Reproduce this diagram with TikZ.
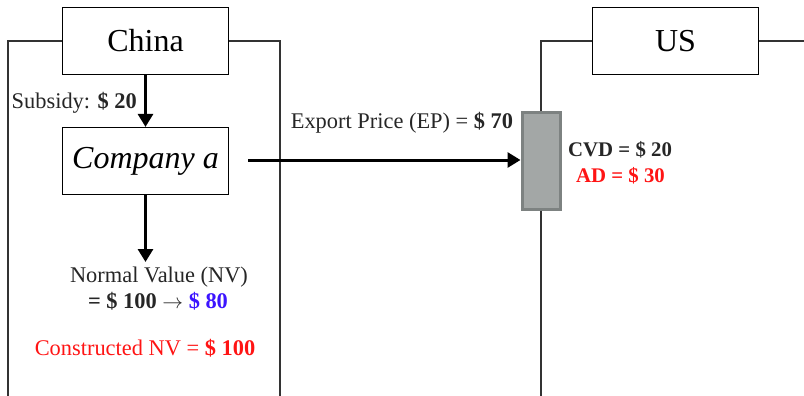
\documentclass[tikz,border=0pt]{standalone}
\usepackage{fontspec}
\setmainfont{Liberation Serif}
\usetikzlibrary{arrows.meta,shadows}
\definecolor{dutygray}{RGB}{163,167,166}
\definecolor{dutyedge}{RGB}{125,130,129}
\definecolor{nvblue}{RGB}{60,20,255}
\definecolor{adred}{RGB}{255,20,20}
\tikzset{
  country/.style={draw,line width=1.2pt,minimum width=166pt,minimum height=67pt,
    inner sep=0pt,font=\fontsize{32}{36}\selectfont},
  frame/.style={line width=1.2pt,draw=black!80},
  flow/.style={line width=3pt,-{Triangle[width=15pt,length=13pt]}},
  lbl/.style={font=\fontsize{22.4}{26}\selectfont,inner sep=0pt,text=black!85},
  duty label/.style={lbl,font=\fontsize{20.8}{24}\selectfont\bfseries,anchor=west},
}
\begin{document}
\begin{tikzpicture}[x=1pt,y=-1pt]
  \useasboundingbox (0,0) rectangle (804,396);
  % China side
  \node[country] (china) at (145.5,41) {China};
  \node[country] (company) at (145.5,161) {\itshape Company a};
  \draw[frame] (china.west) -- (8,41) -- (8,396);
  \draw[frame] (china.east) -- (280,41) -- (280,396);
  \draw[flow] (china) -- (company);
  \node[lbl,anchor=east] (subsidy) at (137,103) {Subsidy: \textbf{\$ 20}};
  \coordinate (nvtop) at (145.5,262);
  \draw[flow] (company) -- (nvtop);
  \node[lbl] (nv) at (159,277) {Normal Value (NV)};
  \node[lbl] (nvchg) at (158,301) {\textbf{= \$ 100} $\rightarrow$ \textcolor{nvblue}{\textbf{\$ 80}}};
  \node[lbl,text=adred] (cnv) at (145,348) {Constructed NV = \textbf{\$ 100}};
  % US side
  \node[country] (us) at (675.5,41) {US};
  \node[draw=dutyedge,fill=dutygray,line width=3pt,minimum width=38pt,minimum height=96pt,
    inner sep=0pt,drop shadow={opacity=0.25,shadow xshift=2pt,shadow yshift=-2pt}] (duty) at (541,161) {};
  \draw[frame] (us.west) -- (541,41) -- (duty.north);
  \draw[frame] (duty.south) -- (541,396);
  \draw[frame] (us.east) -- (804,41);
  \node[duty label] (cvd) at (568,150) {CVD = \$ 20};
  \node[duty label,text=adred] (ad) at (576,176) {AD = \$ 30};
  % export
  \coordinate (epstart) at (248,160);
  \draw[flow] (epstart) -- (duty.west |- epstart);
  \node[lbl] (ep) at (402,123) {Export Price (EP) = \textbf{\$ 70}};
\end{tikzpicture}
\end{document}
